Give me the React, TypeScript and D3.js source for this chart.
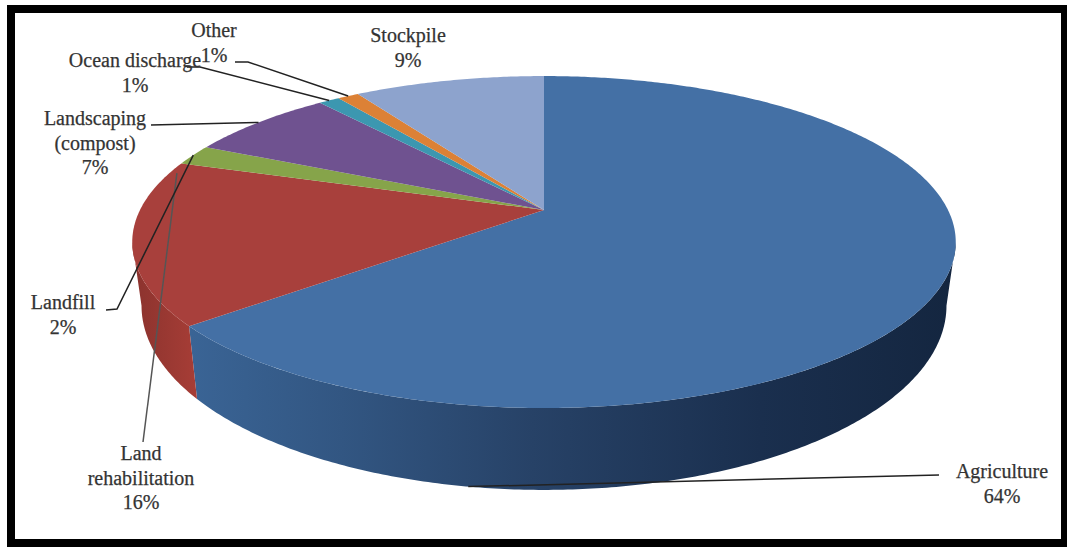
import React from "react";
import * as d3 from "d3";

// Reuse of treated biosolids, share of total by end use
const categories = ["Agriculture", "Land rehabilitation", "Landfill", "Landscaping (compost)", "Ocean discharge", "Other", "Stockpile"];
const shares = [64, 16, 2, 7, 1, 1, 9];
const topColors = ["#4470a5", "#a8403c", "#86a44a", "#6f5290", "#3c97b0", "#dc8136", "#8da3cd"];

const labelLines = [
  ["Agriculture", "64%"],
  ["Land", "rehabilitation", "16%"],
  ["Landfill", "2%"],
  ["Landscaping", "(compost)", "7%"],
  ["Ocean discharge", "1%"],
  ["Other", "1%"],
  ["Stockpile", "9%"],
];
const labelAnchors: [number, number][] = [
  [1002, 478], [141, 460], [63, 309], [95, 125], [135, 67], [214, 37], [408, 42],
];
// Where each leader leaves its label, with an optional elbow, before running to its slice
const leaderStarts: [number, number][][] = [
  [[939, 475]], [[143, 442]], [[106, 310], [117, 309]], [[151, 125]], [[187, 67], [200, 67]], [[235, 62], [248, 62]], [],
];
// Slice-relative fraction of the leader's end, and the depth below the rim it lands at
const leaderFractions = [0.82, 0.97, 0.5, 0.5, 0.5, 0.5, 0.5];
const leaderDepths = [1, 0.1, 0, 0, 0, 0, 0];

const cx = 544, cy = 210;
const k = 0.193, ax = 404, ay = 159.8;
const tau = Math.PI * 2;

// Perspective view of the pie's top face: far rim compressed, near rim enlarged
const project = (angle: number): [number, number] => {
  const u = Math.sin(angle), v = Math.cos(angle), w = 1 + k * v;
  return [cx + (ax * u) / w, cy - (ay * v) / w];
};
// Same rim seen at the bottom of the pie's side wall
const projectBase = (angle: number): [number, number] => {
  const [x, y] = project(angle);
  return [cx + 0.9775 * (x - cx), 1.11 * y + 37];
};
const depthAt = (angle: number, t: number): [number, number] => {
  const a = project(angle), b = projectBase(angle);
  return [a[0] + (b[0] - a[0]) * t, a[1] + (b[1] - a[1]) * t];
};

const pieGen = d3.pie<number>().value((d) => d).sort(null).startAngle(0).endAngle(tau);
const slices = pieGen(shares);
const line = d3.line();

const samples = (a0: number, a1: number): number[] => {
  const n = Math.max(2, Math.ceil(Math.abs(a1 - a0) / 0.01));
  return d3.range(n + 1).map((i) => a0 + ((a1 - a0) * i) / n);
};

// Side wall is visible only between the rim's two horizontal extremes
const wallFrom = Math.acos(-k);
const wallTo = tau - wallFrom;

export default function App() {
  return (
    <svg width={1067} height={554} style={{ position: "absolute", left: 0, top: 0, background: "#fff" }}>
      <defs>
        <linearGradient id="wallBlue" gradientUnits="userSpaceOnUse" x1={190} x2={950} y1={0} y2={0}>
          <stop offset="0" stopColor="#3a6495" />
          <stop offset="0.2" stopColor="#325682" />
          <stop offset="0.45" stopColor="#274267" />
          <stop offset="0.75" stopColor="#1a2f4e" />
          <stop offset="1" stopColor="#142640" />
        </linearGradient>
        <linearGradient id="wallRed" gradientUnits="userSpaceOnUse" x1={135} x2={195} y1={0} y2={0}>
          <stop offset="0" stopColor="#8c332e" />
          <stop offset="1" stopColor="#a63d36" />
        </linearGradient>
      </defs>

      <rect x={11} y={9} width={1054} height={534} fill="none" stroke="#000" strokeWidth={8} />

      {slices.map((s, i) => {
        const a0 = Math.max(s.startAngle, wallFrom), a1 = Math.min(s.endAngle, wallTo);
        if (a1 <= a0) return null;
        const pts = [...samples(a0, a1).map(project), ...samples(a1, a0).map(projectBase)];
        return <path key={categories[i]} d={line(pts) + "Z"} fill={i === 0 ? "url(#wallBlue)" : "url(#wallRed)"} />;
      })}

      {slices.map((s, i) => {
        const pts: [number, number][] = [[cx, cy], ...samples(s.startAngle, s.endAngle).map(project)];
        return <path key={categories[i]} d={line(pts) + "Z"} fill={topColors[i]} />;
      })}

      {slices.map((s, i) => {
        const starts = leaderStarts[i];
        if (!starts.length) return null;
        const end = depthAt(s.startAngle + (s.endAngle - s.startAngle) * leaderFractions[i], leaderDepths[i]);
        const grey = i === 1 ? "#555" : "#222";
        return <path key={categories[i]} d={line([...starts, end]) ?? ""} fill="none" stroke={grey} strokeWidth={1.5} />;
      })}

      {labelLines.map((lines, i) => (
        <text key={categories[i]} textAnchor="middle" fontFamily="'Liberation Serif', serif" fontSize={20} fill="#333" stroke="#333" strokeWidth={0.25}>
          {lines.map((t, j) => (
            <tspan key={t} x={labelAnchors[i][0]} y={labelAnchors[i][1] + j * 24.5}>{t}</tspan>
          ))}
        </text>
      ))}
    </svg>
  );
}
